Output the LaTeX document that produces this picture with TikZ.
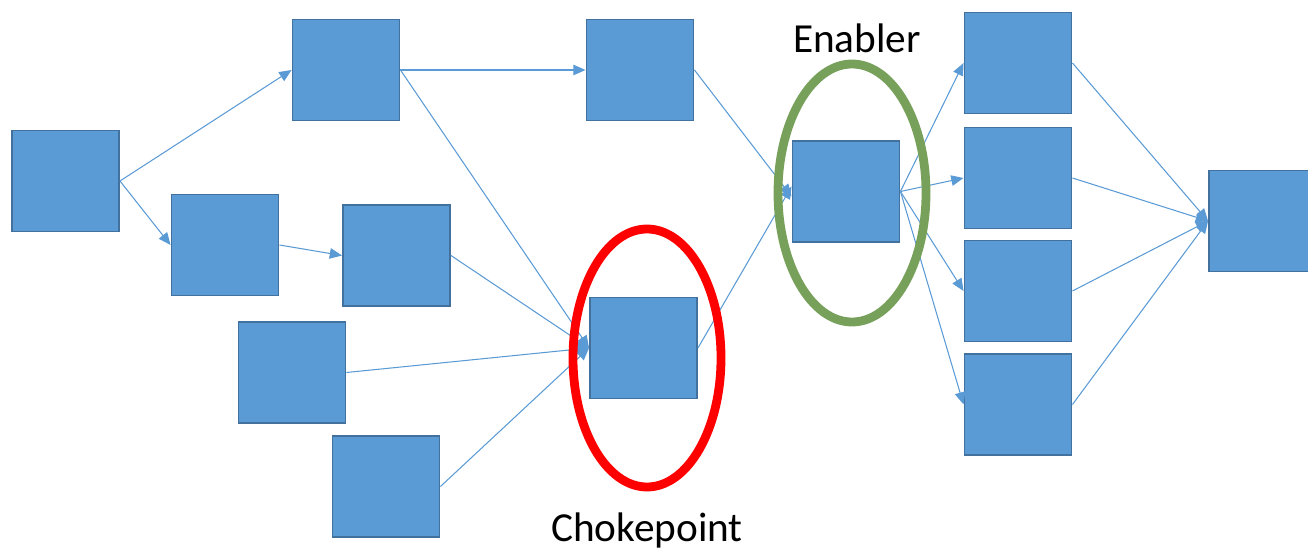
\documentclass[tikz,border=0pt]{standalone}
\usepackage{fontspec}
\setmainfont{Carlito}
\usetikzlibrary{arrows.meta}
\definecolor{boxfill}{HTML}{5B9BD5}
\definecolor{boxline}{HTML}{41719C}
\definecolor{chokered}{HTML}{FF0000}
\definecolor{enablegreen}{HTML}{77A05A}
\tikzset{
  task/.style={draw=boxline, fill=boxfill, line width=1.1pt, minimum width=2.14cm, minimum height=2.02cm, inner sep=0pt},
  link/.style={draw=boxfill, line width=0.6pt, -{Triangle[length=7pt,width=6pt]}},
  ring/.style={line width=5pt},
  caption/.style={font=\fontsize{23.5}{28}\selectfont, text=black, inner sep=0pt}
}
\begin{document}
\begin{tikzpicture}[x=0.02cm, y=-0.02cm]
  \useasboundingbox (0,0) rectangle (1308,550);
  % task boxes
  \node[task] (a)  at (65.5,181)  {};
  \node[task] (b)  at (346,70)    {};
  \node[task] (c)  at (225,245)   {};
  \node[task] (d)  at (396.5,255.5) {};
  \node[task] (e)  at (292,372.5) {};
  \node[task] (f)  at (386,486.5) {};
  \node[task] (g)  at (640,70)    {};
  \node[task] (h)  at (643.5,348) {};
  \node[task] (i)  at (846,191.5) {};
  \node[task] (j1) at (1018,63)   {};
  \node[task] (j2) at (1018,178)  {};
  \node[task] (j3) at (1018,291)  {};
  \node[task] (j4) at (1018,404.5) {};
  \node[task, minimum width=2.0cm] (k) at (1259,221) {};
  % dependencies
  \draw[link] (a.east) -- (b.west);
  \draw[link] (a.east) -- (c.west);
  \draw[link] (c.east) -- (d.west);
  \draw[link] (b.east) -- (g.west);
  \draw[link] (b.east) -- (h.west);
  \draw[link] (d.east) -- (h.west);
  \draw[link] (e.east) -- (h.west);
  \draw[link] (f.east) -- (h.west);
  \draw[link] (g.east) -- ([yshift=-0.1cm]i.west);
  \draw[link] (h.east) -- ([yshift=0.1cm]i.west);
  \draw[link] (i.east) -- (j1.west);
  \draw[link] (i.east) -- (j2.west);
  \draw[link] (i.east) -- (j3.west);
  \draw[link] (i.east) -- (j4.west);
  \draw[link] (j1.east) -- (k.west);
  \draw[link] (j2.east) -- (k.west);
  \draw[link] (j3.east) -- (k.west);
  \draw[link] (j4.east) -- (k.west);
  % highlight rings
  \draw[ring, draw=chokered] (647,358) ellipse [x radius=74, y radius=129];
  \draw[ring, draw=enablegreen] (852,193) ellipse [x radius=74, y radius=129];
  % labels
  \node[caption] (enabler) at (857,38) {Enabler};
  \node[caption] (choke) at (647,530) {Chokepoint};
\end{tikzpicture}
\end{document}
